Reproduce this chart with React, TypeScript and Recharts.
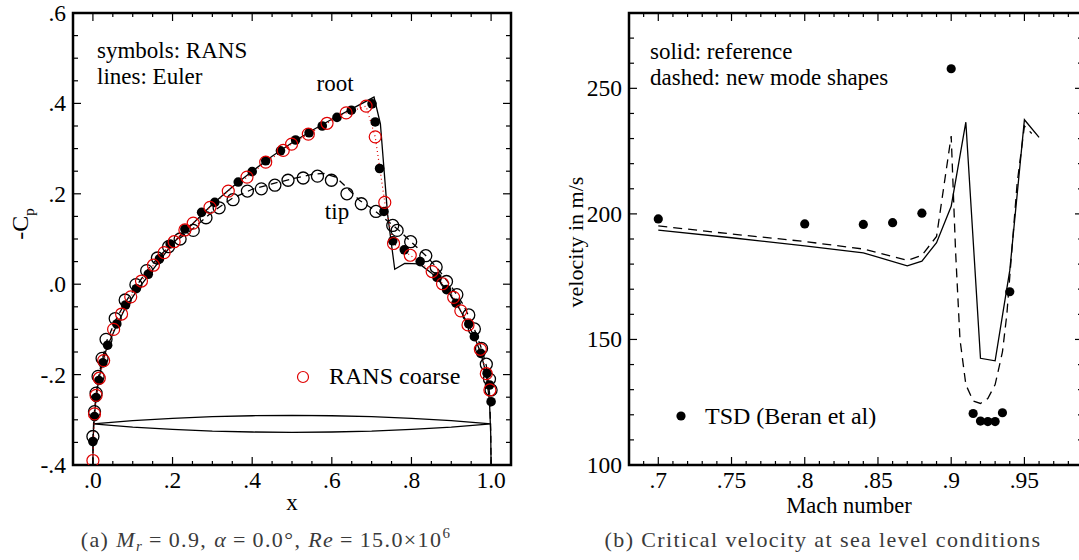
import React from 'react';
import { ComposedChart, Line, Scatter, XAxis, YAxis, ReferenceArea } from 'recharts';

type Pt = [number, number];

// ---------- panel (a): -Cp over chord, root and tip sections ----------
const rootEuler: Pt[] = [
  [0, -0.4], [0.0005, -0.34], [0.003, -0.3], [0.007, -0.26], [0.013, -0.22], [0.022, -0.18],
  [0.035, -0.14], [0.055, -0.1], [0.08, -0.055], [0.11, -0.015], [0.14, 0.02], [0.17, 0.055],
  [0.2, 0.09], [0.25, 0.133], [0.3, 0.177], [0.35, 0.215], [0.4, 0.25], [0.45, 0.283],
  [0.5, 0.313], [0.55, 0.34], [0.6, 0.365], [0.65, 0.388], [0.706, 0.414], [0.722, 0.355],
  [0.74, 0.155], [0.758, 0.033], [0.783, 0.046], [0.82, 0.045], [0.85, 0.025], [0.88, -0.003],
  [0.91, -0.038], [0.94, -0.085], [0.96, -0.12], [0.975, -0.155], [0.988, -0.2], [0.996, -0.26],
  [0.999, -0.33], [1.0, -0.4],
];

const tipEuler: Pt[] = [
  [0, -0.4], [0.0005, -0.33], [0.003, -0.29], [0.008, -0.245], [0.014, -0.205], [0.024, -0.165],
  [0.035, -0.125], [0.058, -0.078], [0.083, -0.038], [0.11, -0.003], [0.14, 0.035], [0.17, 0.065],
  [0.2, 0.09], [0.25, 0.122], [0.3, 0.16], [0.35, 0.19], [0.4, 0.21], [0.45, 0.222], [0.5, 0.233],
  [0.55, 0.243], [0.58, 0.245], [0.61, 0.237], [0.64, 0.212], [0.67, 0.185], [0.7, 0.168],
  [0.74, 0.14], [0.77, 0.118], [0.8, 0.093], [0.84, 0.06], [0.87, 0.03], [0.9, -0.005],
  [0.93, -0.045], [0.955, -0.092], [0.975, -0.14], [0.988, -0.18], [0.996, -0.24], [0.999, -0.32],
  [1.0, -0.4],
];

const rootRans: Pt[] = [
  [0, -0.348], [0.004, -0.293], [0.008, -0.251], [0.015, -0.213], [0.025, -0.174], [0.037, -0.135],
  [0.06, -0.088], [0.082, -0.046], [0.109, -0.01], [0.139, 0.022], [0.167, 0.056], [0.194, 0.089],
  [0.231, 0.122], [0.273, 0.159], [0.306, 0.181], [0.365, 0.226], [0.4, 0.249], [0.434, 0.273],
  [0.471, 0.295], [0.509, 0.319], [0.543, 0.335], [0.576, 0.35], [0.613, 0.369], [0.649, 0.385],
  [0.701, 0.399], [0.709, 0.359], [0.72, 0.256], [0.731, 0.161], [0.753, 0.096], [0.782, 0.076],
  [0.822, 0.05], [0.864, 0.015], [0.888, -0.012], [0.912, -0.042], [0.944, -0.088], [0.958, -0.116],
  [0.974, -0.153], [0.99, -0.197], [0.996, -0.223], [1.0, -0.26],
];

const tipRans: Pt[] = [
  [0, -0.337], [0.004, -0.282], [0.008, -0.241], [0.013, -0.204], [0.023, -0.164], [0.033, -0.122],
  [0.056, -0.076], [0.081, -0.035], [0.108, -0.001], [0.135, 0.03], [0.162, 0.058], [0.19, 0.083],
  [0.219, 0.1], [0.252, 0.119], [0.284, 0.147], [0.317, 0.169], [0.352, 0.187], [0.388, 0.206],
  [0.423, 0.211], [0.457, 0.219], [0.49, 0.23], [0.528, 0.235], [0.564, 0.239], [0.599, 0.23],
  [0.638, 0.2], [0.674, 0.178], [0.711, 0.161], [0.753, 0.13], [0.764, 0.119], [0.798, 0.094],
  [0.836, 0.063], [0.862, 0.038], [0.888, 0.006], [0.914, -0.023], [0.944, -0.068], [0.958, -0.099],
  [0.976, -0.142], [0.988, -0.177], [0.996, -0.21], [1.0, -0.234],
];

const ransCoarse: Pt[] = [
  [0, -0.39], [0.004, -0.287], [0.008, -0.246], [0.016, -0.208], [0.027, -0.169], [0.052, -0.1],
  [0.072, -0.066], [0.095, -0.028], [0.122, 0.007], [0.152, 0.042], [0.179, 0.07], [0.204, 0.094],
  [0.231, 0.12], [0.252, 0.135], [0.294, 0.17], [0.34, 0.206], [0.387, 0.237], [0.434, 0.27],
  [0.478, 0.296], [0.499, 0.31], [0.541, 0.332], [0.588, 0.356], [0.636, 0.379], [0.686, 0.394],
  [0.709, 0.326], [0.733, 0.181], [0.755, 0.09], [0.797, 0.064], [0.852, 0.028], [0.878, 0.001],
  [0.906, -0.029], [0.924, -0.059], [0.942, -0.09], [0.973, -0.144], [0.988, -0.198], [0.997, -0.234],
];

// biconvex section drawn in the lower part of the plot
const airfoilX = [0, 0.1, 0.2, 0.3, 0.4, 0.5, 0.6, 0.7, 0.8, 0.9, 1.0];
const airfoilUpper = [-0.309, -0.302, -0.297, -0.293, -0.291, -0.29, -0.291, -0.293, -0.297, -0.302, -0.309];
const airfoilLower = [-0.309, -0.316, -0.321, -0.325, -0.327, -0.328, -0.327, -0.325, -0.321, -0.316, -0.309];

const chordMajor = [0, 0.2, 0.4, 0.6, 0.8, 1.0];
const chordLabels = ['.0', '.2', '.4', '.6', '.8', '1.0'];
const cpMajor = [-0.4, -0.2, 0, 0.2, 0.4, 0.6];
const cpLabels = ['-.4', '-.2', '.0', '.2', '.4', '.6'];

// ---------- panel (b): flutter velocity vs Mach ----------
const machSolid = [0.7, 0.75, 0.8, 0.84, 0.87, 0.88, 0.89, 0.9, 0.91, 0.92, 0.93, 0.94, 0.95, 0.96];
const velSolid = [193.5, 190.5, 187.3, 184.5, 179.3, 181.2, 188.5, 203, 236.5, 142.5, 141.5, 177.5, 237.5, 230.5];

const machDashed = [0.7, 0.75, 0.8, 0.84, 0.87, 0.88, 0.89, 0.9, 0.903, 0.906, 0.91, 0.915, 0.92, 0.925, 0.93, 0.935, 0.938, 0.94, 0.945, 0.95, 0.955];
const velDashed = [195.2, 192, 189, 186, 181.5, 183.5, 191, 231, 185, 150, 132, 125.5, 124.5, 126.5, 132, 145, 160, 175, 212, 235, 232];

const machTsd = [0.7, 0.8, 0.84, 0.86, 0.88, 0.9, 0.915, 0.92, 0.925, 0.93, 0.935, 0.94];
const velTsd = [198, 196, 195.8, 196.5, 200.3, 257.8, 120.5, 117.5, 117.3, 117.3, 120.8, 169];

const machMajor = [0.7, 0.75, 0.8, 0.85, 0.9, 0.95];
const machLabels = ['.7', '.75', '.8', '.85', '.9', '.95'];
const velMajor = [100, 150, 200, 250];
const velLabels = ['100', '150', '200', '250'];

// ---------- helpers ----------
const SERIF = "'Liberation Serif', 'Times New Roman', Times, serif";
const W = 1079;
const H = 560;
const TICK_FS = 23.5;
const TEXT_FS = 23;

const toPts = (arr: Pt[]) => arr.map(([x, y]) => ({ x, y }));
const zip = (xs: number[], ys: number[]) => xs.map((x, i) => ({ x, y: ys[i] }));

function tickRange(from: number, to: number, step: number) {
  const out: number[] = [];
  for (let v = from; v <= to + 1e-9; v += step) out.push(Math.round(v * 10000) / 10000);
  return out;
}

const majorIndex = (majors: number[], v: number) => majors.findIndex((m) => Math.abs(m - v) < 1e-6);

interface Frame { left: number; right: number; top: number; bottom: number }

// inward ticks on bottom and top edges, labels only at majors
const makeXTick = (majors: number[], labels: string[], f: Frame) => (p: any) => {
  const i = majorIndex(majors, p.payload.value);
  const len = i >= 0 ? 8 : 4;
  return (
    <g>
      <line x1={p.x} x2={p.x} y1={f.bottom} y2={f.bottom - len} stroke="#000" strokeWidth={1.2} />
      <line x1={p.x} x2={p.x} y1={f.top} y2={f.top + len} stroke="#000" strokeWidth={1.2} />
      {i >= 0 && (
        <text x={p.x} y={f.bottom + 23} textAnchor="middle" fontFamily={SERIF} fontSize={TICK_FS} fill="#000">
          {labels[i]}
        </text>
      )}
    </g>
  );
};

// inward ticks on left and right edges
const makeYTick = (majors: number[], labels: string[], f: Frame) => (p: any) => {
  const i = majorIndex(majors, p.payload.value);
  const len = i >= 0 ? 8 : 5;
  return (
    <g>
      <line x1={f.left} x2={f.left + len} y1={p.y} y2={p.y} stroke="#000" strokeWidth={1.2} />
      <line x1={f.right} x2={f.right - len} y1={p.y} y2={p.y} stroke="#000" strokeWidth={1.2} />
      {i >= 0 && (
        <text x={f.left - 7} y={p.y + 8} textAnchor="end" fontFamily={SERIF} fontSize={TICK_FS} fill="#000">
          {labels[i]}
        </text>
      )}
    </g>
  );
};

const filledDot = (r: number) => (p: any) => <circle cx={p.cx} cy={p.cy} r={r} fill="#000" />;
const openDot = (r: number, color: string, sw: number) => (p: any) => (
  <circle cx={p.cx} cy={p.cy} r={r} fill="none" stroke={color} strokeWidth={sw} />
);

// ---------- panel (a) ----------
const CpChart = () => {
  const f: Frame = { left: 73, right: 511, top: 13, bottom: 465 };
  const xTicks = tickRange(-0.05, 1.05, 0.05);
  const yTicks = tickRange(-0.4, 0.6, 0.05);
  const airfoil = [...zip(airfoilX, airfoilUpper), ...zip(airfoilX, airfoilLower).reverse()];

  return (
    <ComposedChart width={540} height={H} margin={{ top: 13, right: 29, bottom: 55, left: 0 }}>
      <XAxis
        type="number" dataKey="x" domain={[-0.05, 1.05]} allowDataOverflow ticks={xTicks} interval={0}
        height={40} axisLine={false} tickLine={false} tickSize={0}
        tick={makeXTick(chordMajor, chordLabels, f)}
      />
      <YAxis
        type="number" dataKey="y" domain={[-0.4, 0.6]} allowDataOverflow ticks={yTicks} interval={0}
        width={73} axisLine={false} tickLine={false} tickSize={0}
        tick={makeYTick(cpMajor, cpLabels, f)}
      />
      <ReferenceArea x1={-0.05} x2={1.05} y1={-0.4} y2={0.6} fill="none" stroke="#000" strokeWidth={2.5} />

      <Line data={airfoil} dataKey="y" type="linear" stroke="#000" strokeWidth={1.3} dot={false} isAnimationActive={false} />
      <Line data={toPts(tipEuler)} dataKey="y" type="linear" stroke="#000" strokeWidth={1.3} strokeDasharray="7 5" dot={false} isAnimationActive={false} />
      <Line data={toPts(rootEuler)} dataKey="y" type="linear" stroke="#000" strokeWidth={1.3} dot={false} isAnimationActive={false} />
      <Line data={toPts(ransCoarse)} dataKey="y" type="linear" stroke="#e00000" strokeWidth={1.2} strokeDasharray="1 3" dot={false} isAnimationActive={false} />

      <Scatter data={toPts(tipRans)} dataKey="y" shape={openDot(6, '#000', 1.3)} isAnimationActive={false} />
      <Scatter data={toPts(rootRans)} dataKey="y" shape={filledDot(4.8)} isAnimationActive={false} />
      <Scatter data={toPts(ransCoarse)} dataKey="y" shape={openDot(6, '#e00000', 1.2)} isAnimationActive={false} />
    </ComposedChart>
  );
};

// ---------- panel (b) ----------
const FlutterChart = () => {
  // local coordinates of the plot area (chart sits at page x = 540)
  const f: Frame = { left: 89, right: 543, top: 13, bottom: 465 };
  const xTicks = tickRange(0.68, 0.99, 0.01);
  const yTicks = tickRange(100, 280, 10);

  return (
    <ComposedChart width={560} height={H} margin={{ top: 13, right: 17, bottom: 55, left: 0 }}>
      <XAxis
        type="number" dataKey="x" domain={[0.68, 0.99]} allowDataOverflow ticks={xTicks} interval={0}
        height={40} axisLine={false} tickLine={false} tickSize={0}
        tick={makeXTick(machMajor, machLabels, f)}
      />
      <YAxis
        type="number" dataKey="y" domain={[100, 280]} allowDataOverflow ticks={yTicks} interval={0}
        width={89} axisLine={false} tickLine={false} tickSize={0}
        tick={makeYTick(velMajor, velLabels, f)}
      />
      <ReferenceArea x1={0.68} x2={0.99} y1={100} y2={280} fill="none" stroke="#000" strokeWidth={2.5} />

      <Line data={zip(machSolid, velSolid)} dataKey="y" type="linear" stroke="#000" strokeWidth={1.3} dot={false} isAnimationActive={false} />
      <Line data={zip(machDashed, velDashed)} dataKey="y" type="linear" stroke="#000" strokeWidth={1.3} strokeDasharray="9 6" dot={false} isAnimationActive={false} />
      <Scatter data={zip(machTsd, velTsd)} dataKey="y" shape={filledDot(4.6)} isAnimationActive={false} />
    </ComposedChart>
  );
};

// ---------- annotations ----------
const Annotations = () => (
  <svg width={W} height={H} style={{ position: 'absolute', left: 0, top: 0, pointerEvents: 'none' }}>
    <g fontFamily={SERIF} fontSize={TEXT_FS} fill="#000">
      <text x={97} y={58}>symbols: RANS</text>
      <text x={97} y={84}>lines: Euler</text>
      <text x={335} y={91} textAnchor="middle">root</text>
      <text x={337} y={219} textAnchor="middle">tip</text>
      <circle cx={303} cy={377} r={5.5} fill="none" stroke="#e00000" strokeWidth={1.2} />
      <text x={329} y={384} fontSize={24}>RANS coarse</text>
      <text x={292} y={510} textAnchor="middle">x</text>
      <text transform="rotate(-90 28 224)" x={28} y={224} textAnchor="middle" fontSize={24}>
        -C<tspan fontSize={15} dy={6}>p</tspan>
      </text>

      <text x={650} y={59}>solid: reference</text>
      <text x={650} y={85}>dashed: new mode shapes</text>
      <circle cx={681} cy={416} r={4.6} fill="#000" />
      <text x={705} y={424} fontSize={24}>TSD (Beran et al)</text>
      <text x={849} y={513} textAnchor="middle" fontSize={22.5}>Mach number</text>
      <text transform="rotate(-90 583 242)" x={583} y={242} textAnchor="middle" fontSize={22}>velocity in m/s</text>
    </g>
    <g fontFamily={SERIF} fontSize={22} fill="#3a3a3a" letterSpacing={1.4}>
      <text x={266} y={547} textAnchor="middle">
        (a)  <tspan fontStyle="italic">M</tspan><tspan fontStyle="italic" fontSize={15} dy={4}>r</tspan>
        <tspan dy={-4}>{'\u2009'}={'\u2009'}0.9,  </tspan><tspan fontStyle="italic">α</tspan>
        <tspan>{'\u2009'}={'\u2009'}0.0°,  </tspan><tspan fontStyle="italic">Re</tspan>
        <tspan>{'\u2009'}={'\u2009'}15.0×10</tspan><tspan fontSize={15} dy={-9}>6</tspan>
      </text>
      <text x={823} y={547} textAnchor="middle">(b) Critical velocity at sea level conditions</text>
    </g>
  </svg>
);

export default function App() {
  return (
    <div style={{ position: 'fixed', left: 0, top: 0, width: W, height: H, overflow: 'hidden', background: '#fff' }}>
      <div style={{ position: 'absolute', left: 0, top: 0 }}>
        <CpChart />
      </div>
      <div style={{ position: 'absolute', left: 540, top: 0 }}>
        <FlutterChart />
      </div>
      <Annotations />
    </div>
  );
}
